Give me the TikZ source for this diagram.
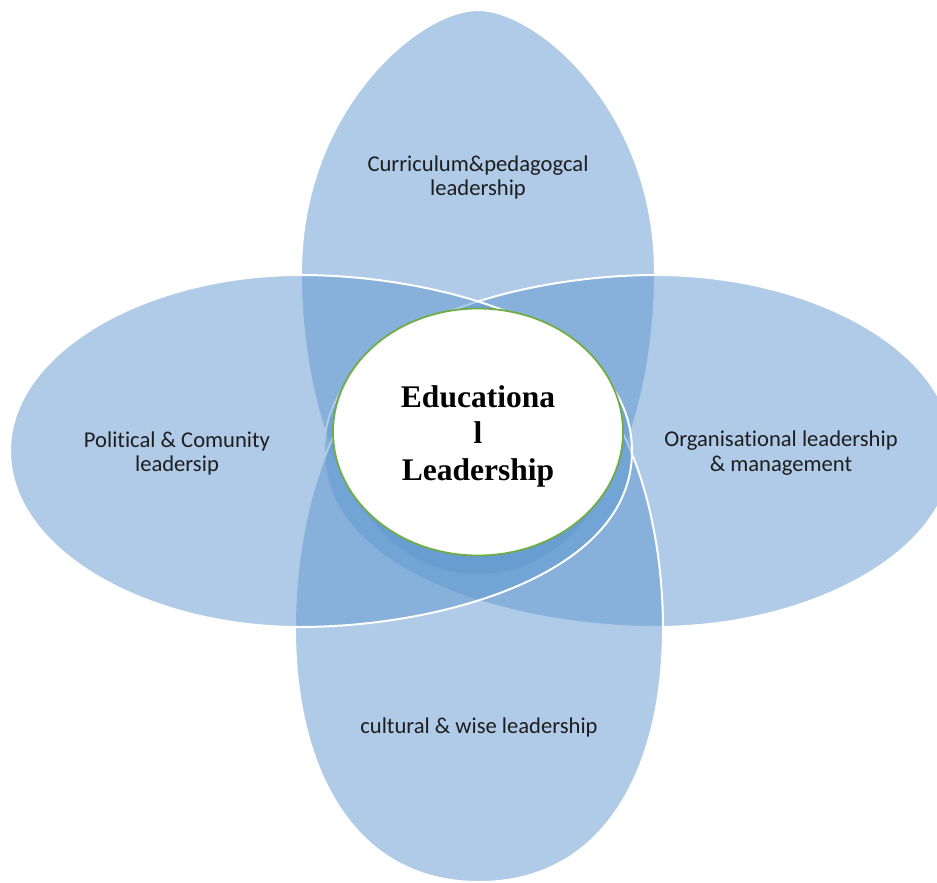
\documentclass[tikz,border=0pt]{standalone}
\usepackage{fontspec}
\setmainfont{Carlito}[Ligatures={NoCommon}]
\newfontfamily\hubfont{Liberation Serif}
\usetikzlibrary{shapes.geometric}
\definecolor{blobblue}{RGB}{95,151,207}
\definecolor{ringgreen}{RGB}{112,173,71}
\definecolor{labeltext}{RGB}{30,30,30}
\begin{document}
\begin{tikzpicture}[x=0.5pt,y=-0.5pt,
  blob/.style={fill=blobblue, fill opacity=0.5, draw=white, line width=1pt},
  lbl/.style={font=\fontsize{11.3}{12.25}\selectfont, align=center, text=labeltext, inner sep=0pt}]
\clip (0,0) rectangle (937,883);
% top shape
\path[blob] (478,10) .. controls (538,10) and (655,111) .. (655,273)
  .. controls (655,411) and (603,575) .. (478,575)
  .. controls (353,575) and (301,411) .. (301,273)
  .. controls (301,111) and (418,10) .. (478,10) -- cycle;
% right shape
\path[blob] (953,451) .. controls (953,351) and (812,275) .. (656,275)
  .. controls (518,275) and (324,326) .. (324,451)
  .. controls (324,576) and (518,627) .. (656,627)
  .. controls (812,627) and (953,551) .. (953,451) -- cycle;
% bottom shape
\path[blob] (479,882) .. controls (609,882) and (663,762) .. (663,629)
  .. controls (663,491) and (610,330) .. (479,330)
  .. controls (348,330) and (295,491) .. (295,629)
  .. controls (295,762) and (349,882) .. (479,882) -- cycle;
% left shape
\path[blob] (10,451) .. controls (10,351) and (148,275) .. (300,275)
  .. controls (438,275) and (632,326) .. (632,451)
  .. controls (632,576) and (438,627) .. (300,627)
  .. controls (148,627) and (10,551) .. (10,451) -- cycle;
% hub
\node[ellipse, draw=ringgreen, line width=0.9pt, fill=white, minimum width=145pt, minimum height=123.5pt, inner sep=0pt] (hub) at (478,432) {};
\node[font=\hubfont\bfseries\fontsize{15.75}{18.25}\selectfont, align=center, inner sep=0pt] (hubtext) at (478,436) {Educationa\\l\\Leadership};
% labels
\node[lbl] (curr) at (478,177.3) {Curriculum\&pedagogcal\\leadership};
\node[lbl] (pol) at (177,453.7) {Polit\kern0pt ical \& Comunity\\leadersip};
\node[lbl] (org) at (781,453.3) {Organisat\kern0pt ional leadership\\\& management};
\node[lbl, anchor=base] (cult) at (479,733) {cultural \& wise leadership};
\end{tikzpicture}
\end{document}
